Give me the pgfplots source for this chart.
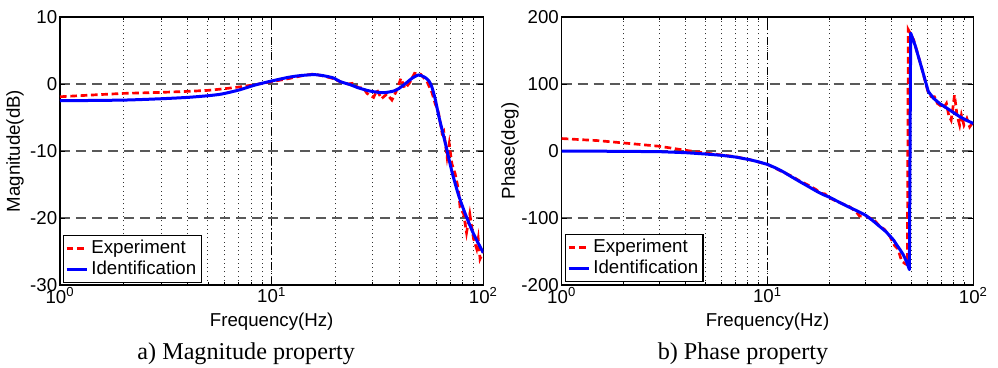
\documentclass[border=0pt]{standalone}
\usepackage{fontspec}
\setmainfont{Liberation Sans}
\newfontfamily\capfont{Liberation Serif}
\usepackage{pgfplots}
\pgfplotsset{compat=1.18}
\tikzset{
  expst/.style={red, line width=1.6pt, dash pattern=on 4pt off 2.2pt},
  idst/.style={blue, line width=1.8pt, line join=round},
}
\pgfplotsset{
  every axis/.append style={
    scale only axis, height=160.8pt,
    font=\fontsize{11.2}{13}\selectfont,
    tick label style={font=\fontsize{11.2}{13}\selectfont},
    xticklabel style={inner sep=1.2pt},
    yticklabel style={inner sep=1.5pt},
    tick align=inside,
    major tick length=3pt, minor tick length=2pt,
    tick style={black, line width=0.5pt},
    axis line style={black, line width=0.9pt},
    xmajorgrids, xminorgrids, ymajorgrids,
    major x grid style={black, line width=0.6pt, dash pattern=on 5pt off 1.5pt on 1pt off 1.5pt},
    minor x grid style={black!80, line width=0.55pt, dotted},
    major y grid style={black!65, line width=0.7pt, dash pattern=on 6pt off 3.6pt},
    xlabel style={at={(axis description cs:0.5,-0.137)}, anchor=center},
    legend cell align=left,
    legend style={draw=black, line width=0.8pt, inner sep=1pt, row sep=-1pt,
      font=\fontsize{11.2}{13}\selectfont, anchor=south west},
  },
}
\begin{document}
\begin{tikzpicture}
\useasboundingbox (0,0) rectangle (598.8pt,220.2pt);
% ---------------- Magnitude ----------------
\begin{axis}[xmode=log, at={(36pt,49.2pt)}, anchor=south west, width=254pt,
  xmin=1, xmax=100, xtick={1,10,100},
  xticklabels={10\textsuperscript{0},10\textsuperscript{1},10\textsuperscript{2}},
  xlabel={Frequency(Hz)},
  ymin=-30, ymax=10, ytick={-30,-20,-10,0,10},
  yticklabels={-30,-20,-10,0,10},
  ylabel={Magnitude(dB)},
  ylabel style={at={(axis description cs:-0.106,0.5)}, anchor=center},
  legend image code/.code={\draw[#1] (0pt,0pt) -- (12pt,0pt);},
  legend style={at={(axis description cs:0.0064,0.0075)}},
]
\addplot[expst] coordinates {
(1,-1.9)(1.5,-1.6)(2,-1.4)(3,-1.25)(4,-1.1)(5,-0.95)(5.8,-0.75)(7,-0.45)
(8.35,-0.1)(10,0.35)(12,0.8)(14,1.25)(15.8,1.5)(17.5,1.2)(19.6,0.8)(21,0.35)
(23,0.0)(24,0.1)(25,-0.3)(26,-0.6)(27,-0.5)(28.2,-1.4)(30.3,-2.0)(31.5,-0.9)
(33,-2.2)(35,-1.5)(37,-2.4)(38.7,-1.15)(40.8,0.85)(42.6,-0.65)(44.7,0.1)
(47.3,1.6)(50.6,1.45)(54.2,0.35)(57.2,-1.3)(59.3,-3)(60.5,-3.6)(61.5,-4.4)
(63.8,-7.3)(65,-7.0)(67.4,-10.9)(69,-8.9)(71,-11.9)(73.6,-13.4)(76.4,-15.9)
(77.6,-18.4)(80.7,-19.4)(83.3,-22.2)(86.3,-19.4)(89.9,-23.1)(93,-24.6)
(94.6,-23.1)(96.5,-26.1)(100,-25)
};
\addlegendentry{Experiment}
\addplot[idst, smooth, tension=0.4] coordinates {
(1,-2.5)(2,-2.4)(3,-2.2)(4,-2.0)(5,-1.75)(5.8,-1.5)(7,-0.9)(8.35,-0.15)
(10,0.45)(12,1.0)(13.6,1.25)(15.8,1.4)(17.5,1.25)(19.6,0.9)(21.1,0.35)
(23.5,-0.1)(25.3,-0.5)(28.2,-0.95)(30.3,-1.15)(33.8,-1.3)(37.7,-1.05)
(40,-0.65)(42,-0.15)(44,0.35)(46,0.85)(49.5,1.35)(53.2,0.95)(55.5,0.4)
(57.2,-0.5)(59.3,-2.3)(61.5,-4.7)(66.1,-8.8)(71.1,-13.1)(76.4,-16.6)
(82.2,-19.4)(90,-22.4)(100,-25.2)
};
\addlegendentry{Identification}
\end{axis}
% ---------------- Phase ----------------
\begin{axis}[xmode=log, at={(337pt,49.2pt)}, anchor=south west, width=247pt,
  xmin=1, xmax=100, xtick={1,10,100},
  xticklabels={10\textsuperscript{0},10\textsuperscript{1},10\textsuperscript{2}},
  xlabel={Frequency(Hz)},
  ymin=-200, ymax=200, ytick={-200,-100,0,100,200},
  yticklabels={-200,-100,0,100,200},
  ylabel={Phase(deg)},
  ylabel style={at={(axis description cs:-0.1255,0.5)}, anchor=center},
  legend image code/.code={\draw[#1] (0pt,0pt) -- (12pt,0pt);},
  legend style={at={(axis description cs:0.0073,0.011)}},
]
\addplot[expst] coordinates {
(1,18.6)(1.5,15.5)(2,12)(3,7)(4,1)(5,-3)(6,-6)(7,-8.5)(8.2,-13)(10,-20)
(12,-32)(13,-37)(14.4,-45)(16,-52)(17.3,-58)(18,-63)(19,-64)(20,-70)
(22,-76)(25,-83)(27,-91)(28,-97)(30,-97)(33,-103)(35,-112)(37,-117)
(39.4,-128)(41.4,-141)(43,-146)(44.8,-164)(46.5,-168)(47.8,-170)
(48.3,181)(51.3,166)(56,125)(60.4,87)(62.5,81)(64.7,81)(66.9,71)(69.1,68)
(71.5,63.6)(74,71)(75.9,53.5)(78,46)(79.5,63.6)(81,83.5)(83.3,53.5)
(85.8,38.5)(87.5,53.5)(90,38.5)(93,48.5)(96,36)(100,43.6)
};
\addlegendentry{Experiment}
\addplot[idst] coordinates {
(1,0)(2,-0.5)(3,-1)(4,-2.5)(5,-4.5)(6,-6.5)(7,-9)(8.2,-13)(9,-16)(10,-20)
(11,-25.5)(12,-31.5)(13,-38)(14.4,-46)(15.8,-53)(17.3,-60)(18.6,-65)(20,-69)
(22.5,-77)(25,-84)(27.5,-90)(30,-96)(32.5,-104)(35.2,-113)(37.5,-120)
(39.4,-127)(41,-133)(42.4,-140)(44,-147)(45.7,-155)(47.5,-166)(48.9,-177)
(49.6,176)(52.1,158)(56.1,124)(60.4,89)(63.9,79)(68.5,71)(74.3,64)(80,57.5)
(86.1,51)(92.5,46)(100,41)
};
\addlegendentry{Identification}
\end{axis}
\node[font=\capfont\fontsize{14.5}{16}\selectfont, inner sep=0pt] at (147.7pt,7.8pt) {a) Magnitude property};
\node[font=\capfont\fontsize{14.5}{16}\selectfont, inner sep=0pt] at (445.8pt,7.8pt) {b) Phase property};
\end{tikzpicture}
\end{document}
